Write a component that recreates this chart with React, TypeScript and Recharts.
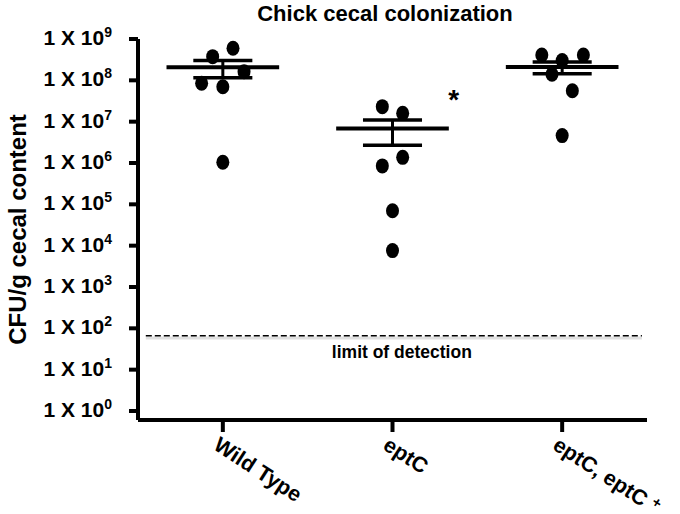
import React from 'react';
import { ScatterChart, Scatter, XAxis, YAxis, ReferenceLine, ReferenceDot } from 'recharts';

const categories = ['Wild Type', 'eptC', 'eptC, eptC +'];
const wildTypeCFU = [5.97e8, 3.74e8, 1.62e8, 8.5e7, 7.0e7, 1.04e6];
const eptCCFU = [2.31e7, 1.59e7, 1.37e6, 8.5e5, 7.0e4, 7.6e3];
const complementedCFU = [4.1e8, 4.1e8, 3.0e8, 1.4e8, 5.6e7, 4.6e6];
const wildTypeJitter = [0.06, -0.06, 0.125, -0.125, 0, 0];
const eptCJitter = [-0.06, 0.06, 0.06, -0.06, 0, 0];
const complementedJitter = [-0.12, 0.125, 0, -0.06, 0.06, 0];
const groupMeans = [2.07e8, 6.8e6, 2.1e8];
const semUpper = [3.0e8, 1.1e7, 2.78e8];
const semLower = [1.16e8, 2.68e6, 1.45e8];
const yTickValues = [1, 10, 100, 1e3, 1e4, 1e5, 1e6, 1e7, 1e8, 1e9];
const limitOfDetection = 66;
const significance = [{ group: 1, offset: 0.36, value: 4.7e7, label: '*' }];

const groups = [
  { values: wildTypeCFU, jitter: wildTypeJitter },
  { values: eptCCFU, jitter: eptCJitter },
  { values: complementedCFU, jitter: complementedJitter },
];
const points = groups.flatMap((g, gi) =>
  g.values.map((v, i) => ({ x: gi + 0.5 + g.jitter[i], y: v }))
);

const SANS = "'Liberation Sans', Arial, Helvetica, sans-serif";

const YTick = (props: any) => {
  const { x, y, payload } = props;
  const exp = Math.round(Math.log10(payload.value));
  return (
    <text x={x} y={y + 6} textAnchor="end" fontFamily={SANS} fontWeight="bold" fontSize={21} fill="#000">
      1 X 10<tspan fontSize={14} dy={-8}>{exp}</tspan>
    </text>
  );
};

const XTick = (props: any) => {
  const { x, y, payload } = props;
  const idx = Math.round(payload.value - 0.5);
  const name = categories[idx] ?? '';
  const hasPlus = name.endsWith('+');
  const main = hasPlus ? name.slice(0, -1) : name;
  return (
    <g transform={`translate(${x},${y})`}>
      <text x={-1} y={18} transform="rotate(33)" textAnchor="start" fontFamily={SANS} fontWeight="bold" fontSize={21.5} fill="#000">
        {main}
        {hasPlus && <tspan fontSize={15} dy={-7}>+</tspan>}
      </text>
    </g>
  );
};

const Dot = (props: any) => (
  <ellipse cx={props.cx} cy={props.cy} rx={6.5} ry={7.5} fill="#000" />
);

export default function App() {
  return (
    <div style={{ position: 'absolute', left: 0, top: 0, width: 680, height: 514, background: '#fff' }}>
      <div style={{ position: 'absolute', left: 185, top: 1, width: 400, lineHeight: '25px', textAlign: 'center', fontFamily: SANS, fontWeight: 'bold', fontSize: 22, color: '#000' }}>
        Chick cecal colonization
      </div>
      <ScatterChart width={680} height={514} margin={{ top: 39, right: 33, bottom: 0, left: 0 }}>
        <XAxis
          type="number"
          dataKey="x"
          domain={[0, 3]}
          ticks={[0.5, 1.5, 2.5]}
          allowDataOverflow
          height={94}
          tickSize={12}
          axisLine={{ stroke: '#000', strokeWidth: 4 }}
          tickLine={{ stroke: '#000', strokeWidth: 4 }}
          tick={<XTick />}
        />
        <YAxis
          type="number"
          dataKey="y"
          scale="log"
          domain={[0.6055, 1e9]}
          ticks={yTickValues}
          allowDataOverflow
          width={138}
          tickSize={9}
          tickMargin={17}
          axisLine={{ stroke: '#000', strokeWidth: 4 }}
          tickLine={{ stroke: '#000', strokeWidth: 4 }}
          tick={<YTick />}
          label={{
            value: 'CFU/g cecal content',
            angle: -90,
            position: 'insideLeft',
            offset: 17,
            style: { textAnchor: 'middle', fontFamily: SANS, fontWeight: 'bold', fontSize: 24, fill: '#000' },
          }}
        />
        <ReferenceLine
          segment={[{ x: 0.046, y: limitOfDetection * 0.88 }, { x: 2.97, y: limitOfDetection * 0.88 }]}
          stroke="#000"
          strokeOpacity={0.12}
          strokeWidth={3}
          ifOverflow="visible"
        />
        <ReferenceLine
          segment={[{ x: 0.046, y: limitOfDetection }, { x: 2.97, y: limitOfDetection }]}
          stroke="#000"
          strokeWidth={1.5}
          strokeDasharray="6 3"
          ifOverflow="visible"
          label={(p: any) => {
            const vb = p.viewBox || {};
            return (
              <text x={vb.x + vb.width / 2 + 8} y={vb.y + 22} textAnchor="middle" fontFamily={SANS} fontWeight="bold" fontSize={17.5} fill="#000">
                limit of detection
              </text>
            );
          }}
        />
        <Scatter data={points} isAnimationActive={false} shape={<Dot />} />
        {groupMeans.map((m, i) => (
          <ReferenceLine key={`m${i}`} segment={[{ x: i + 0.5 - 0.332, y: m }, { x: i + 0.5 + 0.332, y: m }]} stroke="#000" strokeWidth={4} ifOverflow="visible" />
        ))}
        {semUpper.map((u, i) => (
          <ReferenceLine key={`su${i}`} segment={[{ x: i + 0.5 - 0.174, y: u }, { x: i + 0.5 + 0.174, y: u }]} stroke="#000" strokeWidth={3.5} ifOverflow="visible" />
        ))}
        {semLower.map((l, i) => (
          <ReferenceLine key={`sl${i}`} segment={[{ x: i + 0.5 - 0.174, y: l }, { x: i + 0.5 + 0.174, y: l }]} stroke="#000" strokeWidth={3.5} ifOverflow="visible" />
        ))}
        {semUpper.map((u, i) => (
          <ReferenceLine key={`sv${i}`} segment={[{ x: i + 0.5, y: u }, { x: i + 0.5, y: semLower[i] }]} stroke="#000" strokeWidth={3} ifOverflow="visible" />
        ))}
        {significance.map((s, i) => (
          <ReferenceDot
            key={`sig${i}`}
            x={s.group + 0.5 + s.offset}
            y={s.value}
            r={0}
            ifOverflow="visible"
            label={(p: any) => {
              const vb = p.viewBox || {};
              const cx = vb.x + (vb.width || 0) / 2;
              const cy = vb.y + (vb.height || 0) / 2;
              return (
                <text x={cx} y={cy + 15} textAnchor="middle" fontFamily={SANS} fontWeight="bold" fontSize={28} fill="#000">
                  {s.label}
                </text>
              );
            }}
          />
        ))}
      </ScatterChart>
    </div>
  );
}
